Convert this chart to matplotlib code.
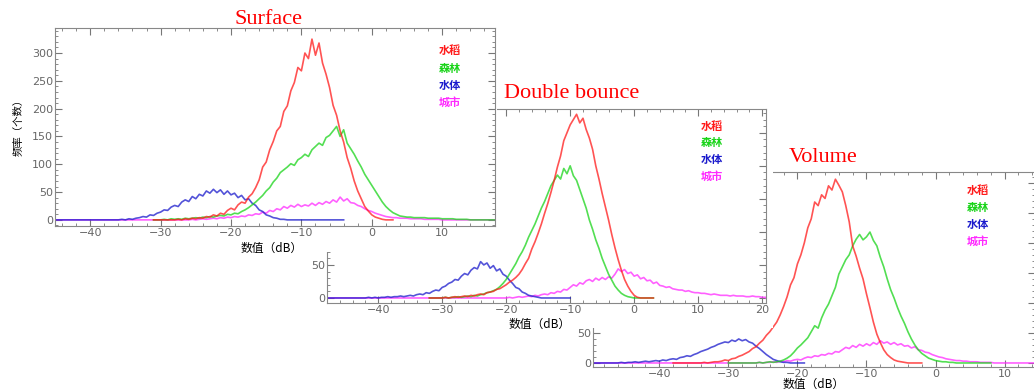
import numpy as np
import matplotlib
matplotlib.use('Agg')
import matplotlib.pyplot as plt
from matplotlib.ticker import MultipleLocator, FuncFormatter

plt.rcParams['font.family'] = ['DejaVu Sans']
cjk = ['Noto Sans CJK SC', 'DejaVu Sans']

W, H = 1034, 390
step = 0.5  # dB bin width of the histograms

names = ['水稻', '森林', '水体', '城市']
colors = ['#ff1a1a', '#19d419', '#1a1acc', '#ff2bff']

# ---- Surface ----
surf_start = [-28, -30, -36, -26]
surf_red = [0, 1, 0, 2, 1, 3, 2, 4, 3, 6, 5, 9, 7, 12, 10, 17, 21, 18, 27, 32, 30, 41, 47, 58, 72, 95,
            104, 126, 141, 160, 168, 195, 205, 232, 247, 274, 268, 300, 290, 325, 296, 318, 282, 262,
            238, 206, 188, 160, 140, 112, 93, 70, 52, 38, 24, 16, 9, 5, 3, 1, 0]
surf_green = [0, 1, 0, 2, 1, 2, 1, 3, 2, 3, 4, 3, 5, 4, 6, 5, 7, 8, 7, 10, 9, 12, 11, 15, 18, 22, 27, 32,
              38, 44, 52, 58, 68, 75, 85, 90, 95, 101, 98, 108, 112, 118, 114, 126, 132, 138, 134, 148,
              152, 160, 168, 150, 162, 138, 128, 118, 106, 95, 82, 72, 62, 52, 42, 32, 24, 18, 13, 10,
              7, 6, 5, 5, 4, 4, 4, 4, 3, 3, 3, 3, 2, 2, 2, 2, 1, 1, 1, 1, 0]
surf_blue = [0, 1, 0, 2, 1, 3, 4, 6, 5, 9, 8, 12, 14, 18, 17, 23, 26, 24, 32, 36, 33, 42, 38, 46, 43, 52,
             48, 55, 49, 54, 46, 52, 45, 48, 40, 44, 36, 38, 30, 26, 18, 15, 9, 7, 4, 3, 1, 1, 0]
surf_mag = [0, 1, 0, 1, 2, 1, 2, 3, 2, 4, 3, 5, 4, 6, 5, 7, 6, 9, 8, 11, 10, 14, 12, 17, 15, 20, 18, 24,
            21, 26, 23, 28, 24, 27, 25, 30, 26, 31, 28, 33, 30, 36, 32, 41, 34, 38, 31, 30, 26, 24, 20,
            17, 15, 12, 10, 8, 6, 5, 4, 4, 3, 3, 3, 2, 2, 2, 2, 1, 1, 1, 1, 1, 0]
surf_flat = [(-31, 3), (-31, 17.5), (-45, -4), (-45, 17.5)]

# ---- Double bounce ----
db_start = [-30, -30, -42, -20]
db_red = [0, 1, 0, 1, 2, 1, 2, 3, 2, 4, 3, 5, 6, 5, 8, 9, 10, 13, 14, 17, 20, 24, 27, 31, 36, 43, 52, 60,
          74, 85, 98, 112, 128, 143, 160, 178, 198, 215, 238, 250, 262, 270, 278, 265, 272, 255, 242,
          225, 200, 180, 158, 138, 118, 96, 76, 58, 42, 28, 18, 10, 4, 1, 0]
db_green = [0, 1, 0, 1, 1, 2, 1, 2, 3, 2, 4, 3, 5, 6, 8, 9, 11, 13, 17, 22, 28, 36, 44, 52, 62, 70, 80,
            92, 102, 112, 124, 136, 146, 158, 170, 178, 186, 180, 196, 188, 200, 185, 178, 164, 150,
            136, 118, 104, 88, 75, 60, 48, 36, 27, 18, 12, 7, 4, 2, 1, 0]
db_blue = [0, 1, 0, 1, 0, 1, 1, 2, 1, 2, 2, 3, 2, 3, 4, 3, 5, 6, 5, 8, 7, 10, 12, 11, 16, 18, 22, 24, 28,
           27, 33, 37, 35, 42, 46, 44, 55, 50, 53, 45, 49, 41, 44, 36, 33, 27, 22, 16, 14, 9, 7, 4, 3,
           2, 1, 0, 0]
db_mag = [0, 1, 0, 1, 2, 1, 2, 3, 2, 4, 3, 5, 6, 5, 8, 7, 10, 9, 13, 12, 16, 20, 18, 23, 21, 26, 28, 25,
          30, 27, 31, 28, 32, 30, 36, 44, 40, 43, 37, 39, 33, 35, 29, 31, 26, 27, 22, 24, 19, 18, 16,
          17, 14, 13, 12, 12, 10, 11, 9, 8, 8, 7, 7, 6, 5, 6, 5, 4, 4, 4, 3, 4, 3, 3, 3, 2, 2, 3, 2, 2,
          1, 1, 1]
db_flat = [(-32, 3), (-32, 3), (-48, -10), (-48, 20.6)]

# ---- Volume ----
vol_start = [-34, -26, -46, -26]
vol_red = [0, 1, 0, 1, 2, 2, 3, 5, 4, 7, 8, 11, 13, 16, 19, 24, 27, 33, 38, 46, 52, 60, 68, 80, 94, 110,
           130, 142, 165, 180, 200, 225, 240, 268, 262, 280, 274, 295, 288, 306, 296, 285, 262, 235,
           195, 178, 158, 140, 115, 92, 68, 48, 34, 22, 14, 9, 5, 3, 2, 1, 0]
vol_green = [0, 1, 0, 1, 2, 1, 2, 3, 5, 8, 12, 18, 25, 30, 36, 42, 52, 62, 58, 75, 88, 98, 112, 126, 148,
             160, 172, 180, 195, 206, 214, 205, 210, 218, 204, 195, 176, 160, 140, 122, 108, 92, 78,
             66, 52, 40, 30, 22, 16, 12, 8, 6, 4, 3, 2, 2, 1, 1, 0]
vol_blue = [0, 1, 0, 1, 1, 2, 1, 2, 3, 2, 3, 4, 3, 5, 4, 6, 7, 6, 9, 10, 12, 11, 14, 16, 19, 21, 23, 26,
            28, 31, 33, 35, 34, 38, 36, 40, 37, 39, 35, 33, 28, 24, 19, 14, 10, 6, 4, 2, 1, 1, 0]
vol_mag = [0, 1, 0, 1, 1, 2, 1, 3, 2, 4, 3, 5, 6, 5, 8, 10, 9, 12, 11, 14, 13, 16, 15, 19, 18, 22, 26,
           24, 29, 26, 31, 28, 32, 29, 34, 31, 37, 33, 35, 31, 34, 30, 32, 28, 29, 25, 27, 22, 21, 18,
           17, 14, 12, 10, 9, 7, 6, 5, 4, 4, 3, 3, 2, 2, 2, 1, 1, 1, 1, 0]
vol_flat = [(-38, -2), (-30, 8), (-49.6, -19), (-49.6, 14.4)]

# ylab_max: y tick labels above this sit under the panel in front, so they are not drawn
panels = [
    dict(title='Surface', start=surf_start, series=[surf_red, surf_green, surf_blue, surf_mag],
         flat=surf_flat, box=(55, 28, 495, 226), bg=(0, 0, 497, 252), xlim=(-45, 17.5), ylim=(-11, 345),
         title_px=(268, 20), leg=(0.898, 0.884), xlab=(0.493, -0.078), ylab=True, ylab_max=1000),
    dict(title='Double bounce', start=db_start, series=[db_red, db_green, db_blue, db_mag],
         flat=db_flat, box=(327, 109, 766, 303), bg=(300, 78, 773, 328), xlim=(-48, 20.6), ylim=(-7.6, 286),
         title_px=(572, 93), leg=(0.877, 0.912), xlab=(0.485, -0.075), ylab=False, ylab_max=50),
    dict(title='Volume', start=vol_start, series=[vol_red, vol_green, vol_blue, vol_mag],
         flat=vol_flat, box=(593, 172, 1035, 367), bg=(566, 142, 1034, 390), xlim=(-49.6, 14.4), ylim=(-6.7, 318),
         title_px=(823, 157), leg=(0.871, 0.903), xlab=(0.498, -0.058), ylab=False, ylab_max=50),
]


def rect(l, t, r, b):
    return [l / W, 1 - b / H, (r - l) / W, (b - t) / H]


fig = plt.figure(figsize=(W / 100, H / 100), dpi=100)
fig.patch.set_facecolor('white')

# drawn bottom to top: Volume, Double bounce, Surface
for rank, p in enumerate(reversed(panels)):
    z = 2 * rank + 1
    bg = fig.add_axes(rect(*p['bg']))
    bg.set_axis_off()
    bg.add_patch(plt.Rectangle((0, 0), 1, 1, transform=bg.transAxes, color='white'))
    bg.set_zorder(z)

    ax = fig.add_axes(rect(*p['box']))
    ax.set_zorder(z + 1)
    ax.set_facecolor('white')
    for i in [3, 2, 1, 0]:
        vals = p['series'][i]
        xs = p['start'][i] + step * np.arange(len(vals))
        lo, hi = p['flat'][i]
        x = np.concatenate([[lo], xs, [hi]])
        y = np.concatenate([[0], vals, [0]])
        ax.plot(x, y, color=colors[i], lw=1.2, alpha=0.75)
    ax.set_xlim(*p['xlim'])
    ax.set_ylim(*p['ylim'])
    ax.xaxis.set_major_locator(MultipleLocator(10))
    ax.xaxis.set_minor_locator(MultipleLocator(2))
    ax.yaxis.set_major_locator(MultipleLocator(50))
    ax.yaxis.set_minor_locator(MultipleLocator(10))
    ymax_lab = p['ylab_max']
    ax.yaxis.set_major_formatter(FuncFormatter(lambda v, pos, m=ymax_lab: f'{v:.0f}' if v <= m else ''))
    ax.tick_params(which='both', direction='in', top=True, right=True, color='#777777',
                   labelcolor='#666666', labelsize=8, pad=1.5)
    ax.tick_params(which='major', length=5, width=0.8)
    ax.tick_params(which='minor', length=2.5, width=0.6)
    for s in ax.spines.values():
        s.set_color('#888888')
        s.set_linewidth(0.8)

    ax.set_xlabel('数值（dB）', family=cjk, fontsize=8.5)
    ax.xaxis.set_label_coords(*p['xlab'])
    if p['ylab']:
        ax.set_ylabel('频率（个数）', family=cjk, fontsize=7.5)
        ax.yaxis.set_label_coords(-0.072, 0.51)

    lx, ly = p['leg']
    for i, name in enumerate(names):
        ax.text(lx, ly - 0.087 * i, name, transform=ax.transAxes, color=colors[i],
                family=cjk, fontsize=8, fontweight='bold', ha='center', va='center')

    tx, ty = p['title_px']
    t = fig.text(tx / W, 1 - ty / H, p['title'], color='red', family='Liberation Serif',
                 fontsize=16, ha='center', va='center')
    t.set_zorder(z + 1)

fig.savefig('out.png', dpi=100)
